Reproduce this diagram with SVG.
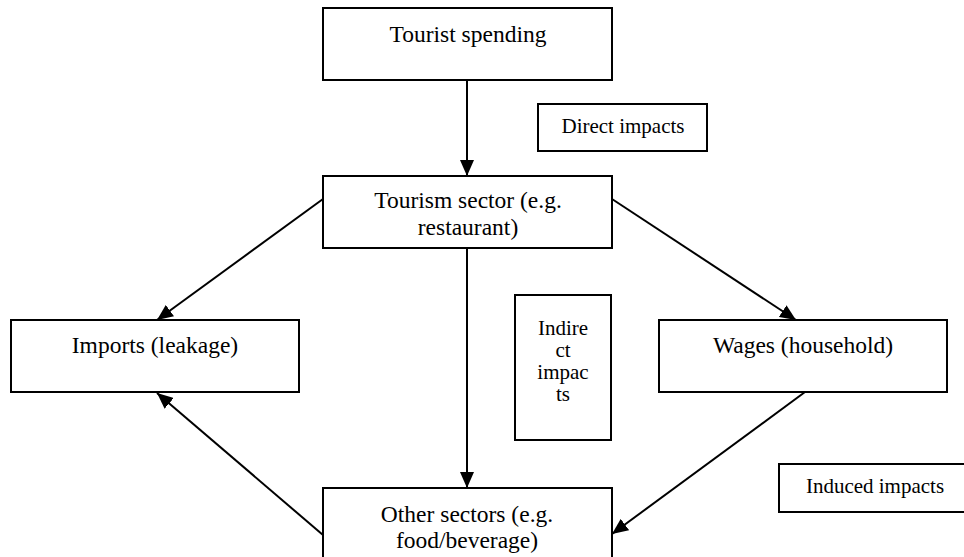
<svg xmlns="http://www.w3.org/2000/svg" width="964" height="557" viewBox="0 0 964 557">
<style>
.box{fill:#fff;stroke:#000;stroke-width:2}
text{font-family:"Times New Roman","Liberation Serif",Tinos,"DejaVu Serif",serif;fill:#000;text-anchor:middle}
.t{font-size:23.5px}
.s{font-size:21px}
.c{stroke:#000;stroke-width:2;fill:none;marker-end:url(#ah)}
</style>
<defs>
<marker id="ah" markerUnits="userSpaceOnUse" markerWidth="16" markerHeight="14" viewBox="0 0 16 14" refX="16" refY="7" orient="auto">
<path d="M0,0 L16,7 L0,14 Z" fill="#000"/>
</marker>
</defs>
<rect width="964" height="557" fill="#fff"/>
<g id="connectors">
<line class="c" x1="467" y1="80" x2="467" y2="176"/>
<line class="c" x1="467" y1="248" x2="467" y2="488"/>
<line class="c" x1="323" y1="199" x2="157" y2="320"/>
<line class="c" x1="612" y1="199" x2="796" y2="320"/>
<line class="c" x1="805" y1="392" x2="612" y2="534"/>
<line class="c" x1="323" y1="535" x2="157" y2="393"/>
</g>
<g id="tourist-spending">
<rect class="box" x="323" y="8" width="289" height="72"/>
<text class="t" x="468" y="42" font-family="Liberation Serif, serif">Tourist spending</text>
</g>
<g id="direct-impacts">
<rect class="box" x="538" y="104" width="169" height="47"/>
<text class="s" x="623" y="133">Direct impacts</text>
</g>
<g id="tourism-sector">
<rect class="box" x="323" y="176" width="289" height="72"/>
<text class="t" x="468" y="208">Tourism sector (e.g.</text>
<text class="t" x="468" y="235">restaurant)</text>
</g>
<g id="imports">
<rect class="box" x="11" y="320" width="288" height="72"/>
<text class="t" x="155" y="353">Imports (leakage)</text>
</g>
<g id="wages">
<rect class="box" x="659" y="320" width="288" height="72"/>
<text class="t" x="803" y="353">Wages (household)</text>
</g>
<g id="indirect-impacts">
<rect class="box" x="515" y="295" width="96" height="145"/>
<text class="s" x="563" y="335">Indire</text>
<text class="s" x="563" y="357">ct</text>
<text class="s" x="563" y="379">impac</text>
<text class="s" x="563" y="401">ts</text>
</g>
<g id="other-sectors">
<rect class="box" x="323" y="488" width="289" height="90"/>
<text class="t" x="467" y="522">Other sectors (e.g.</text>
<text class="t" x="467" y="548">food/beverage)</text>
</g>
<g id="induced-impacts">
<rect class="box" x="779" y="464" width="193" height="48"/>
<text class="s" x="875" y="493">Induced impacts</text>
</g>
</svg>
